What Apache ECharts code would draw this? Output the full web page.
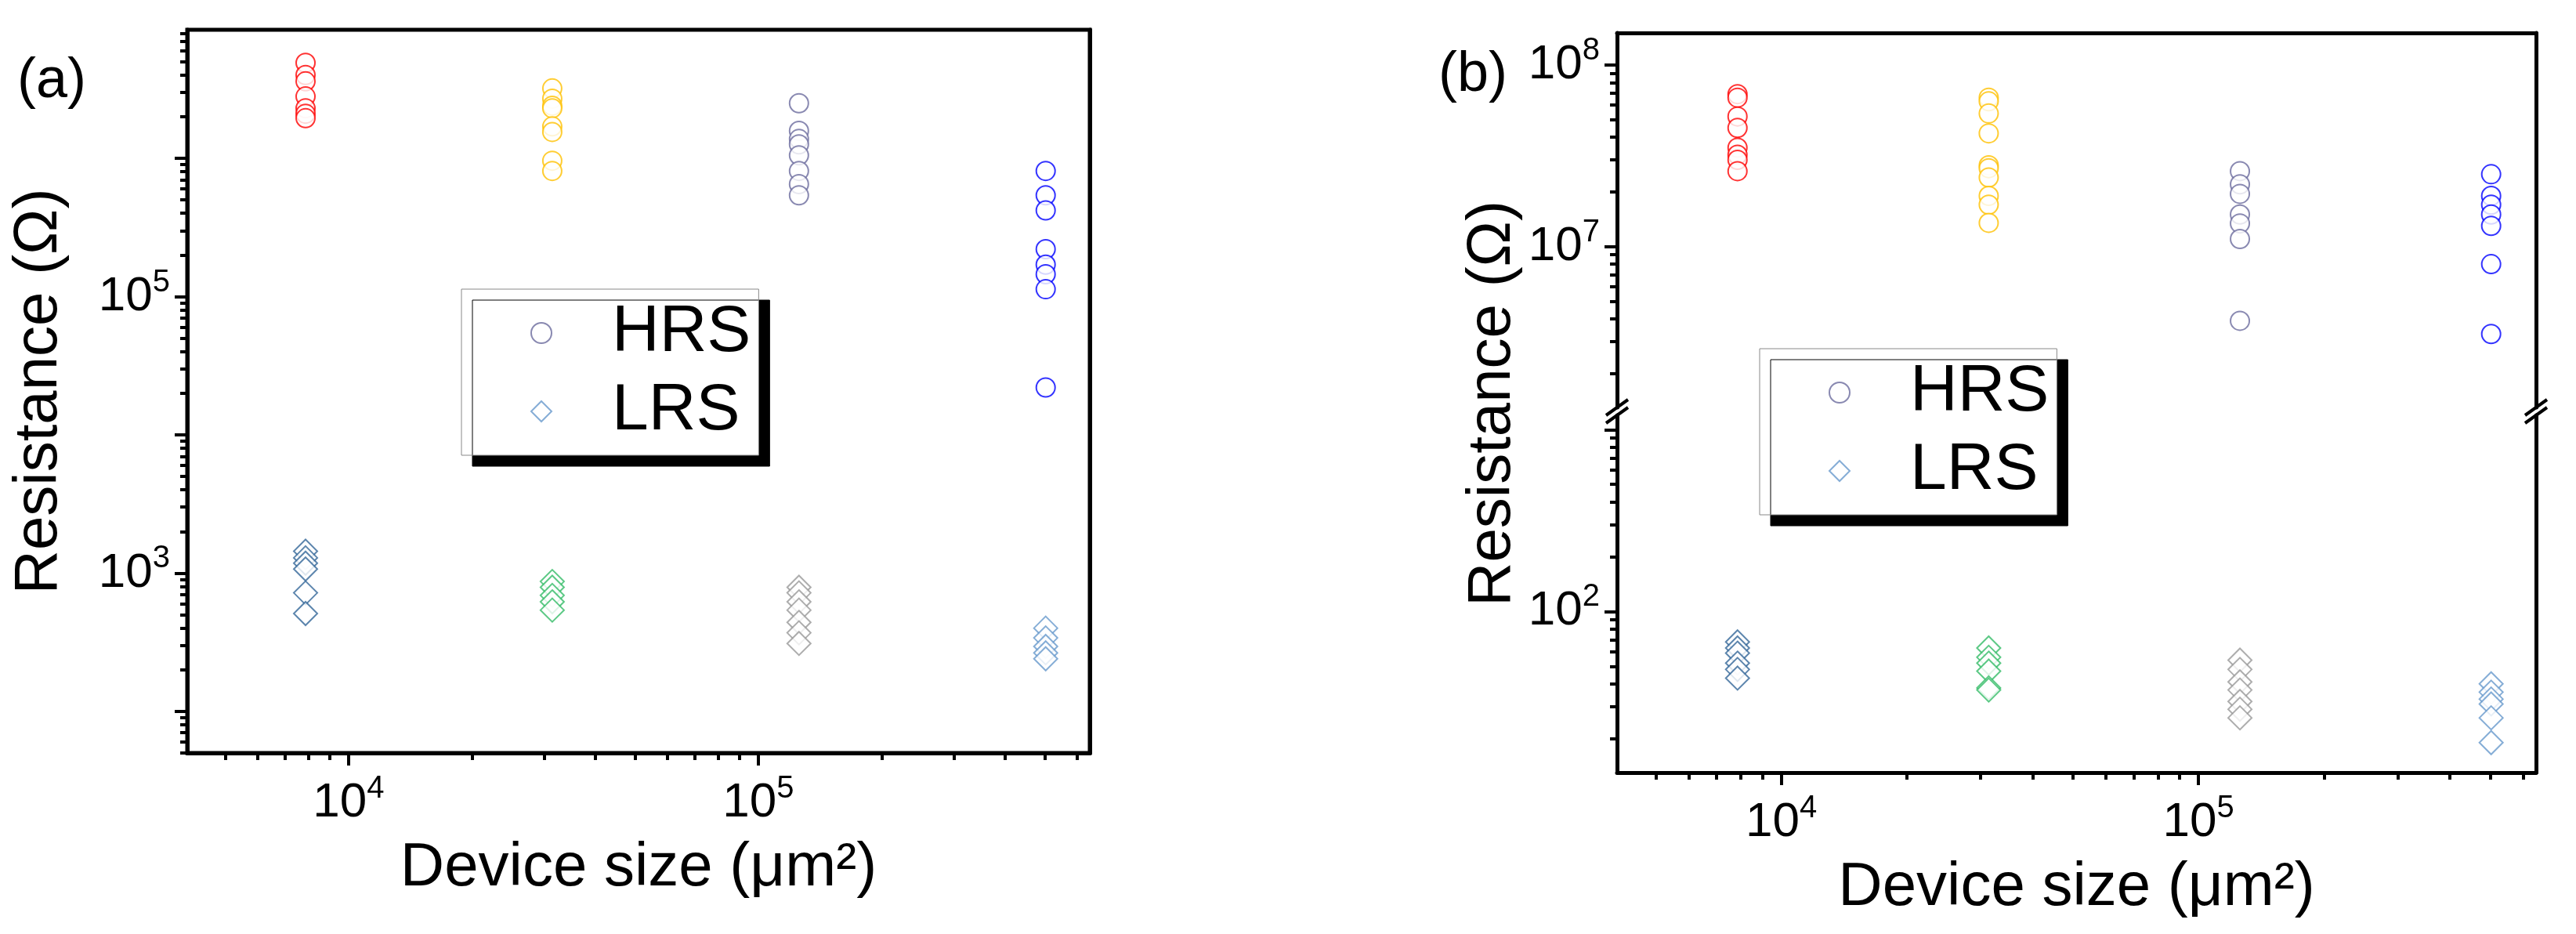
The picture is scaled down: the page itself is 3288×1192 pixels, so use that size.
<!DOCTYPE html>
<html>
<head>
<meta charset="utf-8">
<script src="https://cdn.jsdelivr.net/npm/echarts@6/dist/echarts.min.js"></script>
<style>html,body{margin:0;background:#fff}#c{width:3288px;height:1192px}</style>
</head>
<body>
<div id="c"></div>
<script>
// device areas (um^2): 100, 200, 400, 800 um diameter
var sizes = [7854, 31416, 125664, 502655];
var colorsHRS = ['#ff0000', '#ffc000', '#6b6b9e', '#0000ff'];
var colorsLRS = ['#336699', '#33bb66', '#999999', '#6699cc'];

// panel (a)
var hrsA = [
    [4.9e6, 4.0e6, 3.6e6, 2.8e6, 2.3e6, 2.1e6, 1.95e6],
    [3.2e6, 2.7e6, 2.4e6, 2.3e6, 1.7e6, 1.55e6, 9.6e5, 8.1e5],
    [2.5e6, 1.58e6, 1.38e6, 1.26e6, 1.05e6, 8.1e5, 6.5e5, 5.4e5],
    [8.1e5, 5.4e5, 4.2e5, 2.2e5, 1.7e5, 1.45e5, 1.13e5, 2.2e4]
];
var lrsA = [
    [1440, 1290, 1180, 1070, 720, 510],
    [870, 790, 690, 620, 540],
    [790, 720, 620, 540, 440, 370, 310],
    [400, 340, 295, 265, 240]
];
// panel (b)
var hrsB = [
    [6.9e7, 6.6e7, 5.2e7, 4.5e7, 3.5e7, 3.2e7, 3.0e7, 2.6e7],
    [6.6e7, 6.3e7, 5.4e7, 4.2e7, 2.8e7, 2.7e7, 2.4e7, 1.9e7, 1.7e7, 1.35e7],
    [2.6e7, 2.2e7, 1.95e7, 1.5e7, 1.34e7, 1.1e7, 3.9e6],
    [2.5e7, 1.9e7, 1.7e7, 1.5e7, 1.3e7, 8.0e6, 3.3e6]
];
var lrsB = [
    [68, 63, 59, 52, 48, 43],
    [63, 56, 52, 47, 38, 37],
    [54, 48, 41, 37, 32, 29, 26],
    [40, 36, 33, 31, 26, 19]
];

var xMajor = [1e4, 1e5];
var yMajorA = [1e2, 1e3, 1e4, 1e5, 1e6];
var yLabelA = [1e3, 1e5];
var yMajorBUp = [1e7, 1e8];
var yMajorBLow = [1e2, 1e3];
var yLabelBLow = [1e2];

function minors(lo, hi) {
    var out = [];
    for (var e = -1; e < 10; e++) {
        for (var m = 2; m <= 9; m++) {
            var v = m * Math.pow(10, e);
            if (v >= lo && v <= hi) out.push(v);
        }
    }
    return out;
}

var FONT = 'Liberation Sans';
var rich = {
    b: {fontFamily: FONT, fontSize: 62, color: '#000'},
    s: {fontFamily: FONT, fontSize: 40, color: '#000', padding: [0, 0, 36, 0]}
};
function expLabel(v) {
    return '{b|10}{s|' + Math.round(Math.log10(v)) + '}';
}
var axLine = {show: true, lineStyle: {color: '#000', width: 5}};
var noLine = {show: false};
var tickStyle = {color: '#000', width: 4};

function majorAxis(extra) {
    return Object.assign({
        type: 'log', logBase: 10, splitLine: {show: false}, axisLine: axLine
    }, extra);
}

var X = {min: 4040, max: 6.44e5};
var xName = {name: 'Device size (\u03bcm\u00b2)', nameLocation: 'middle', nameGap: 108,
    nameTextStyle: {fontFamily: FONT, fontSize: 78, color: '#000'}};
var xAxes = [
    majorAxis(Object.assign({gridIndex: 0, position: 'bottom',
        axisTick: {inside: false, length: 16, lineStyle: tickStyle, customValues: xMajor},
        axisLabel: {customValues: xMajor, margin: 26, formatter: expLabel, rich: rich}}, xName, X)),
    majorAxis(Object.assign({gridIndex: 0, position: 'bottom', axisLine: noLine,
        axisTick: {inside: false, length: 9, lineStyle: tickStyle, customValues: minors(X.min, X.max)},
        axisLabel: {show: false}}, X)),
    majorAxis(Object.assign({gridIndex: 1, position: 'top',
        axisTick: {show: false}, axisLabel: {show: false}}, X)),
    majorAxis(Object.assign({gridIndex: 2, position: 'bottom',
        axisTick: {inside: false, length: 16, lineStyle: tickStyle, customValues: xMajor},
        axisLabel: {customValues: xMajor, margin: 26, formatter: expLabel, rich: rich}}, xName, X)),
    majorAxis(Object.assign({gridIndex: 2, position: 'bottom', axisLine: noLine,
        axisTick: {inside: false, length: 9, lineStyle: tickStyle, customValues: minors(X.min, X.max)},
        axisLabel: {show: false}}, X))
];

function yPair(grid, lo, hi, majors, labels, extra) {
    return [
        majorAxis(Object.assign({gridIndex: grid, min: lo, max: hi, position: 'left',
            axisTick: {inside: false, length: 16, lineStyle: tickStyle, customValues: majors},
            axisLabel: {customValues: labels, margin: 22, formatter: expLabel, rich: rich}}, extra || {})),
        majorAxis({gridIndex: grid, min: lo, max: hi, position: 'left', axisLine: noLine,
            axisTick: {inside: false, length: 9, lineStyle: tickStyle, customValues: minors(lo, hi)},
            axisLabel: {show: false}}),
        majorAxis({gridIndex: grid, min: lo, max: hi, position: 'right',
            axisTick: {show: false}, axisLabel: {show: false}})
    ];
}
var yAxes = [].concat(
    yPair(0, 50, 8.5e6, yMajorA, yLabelA, {name: 'Resistance (\u03a9)', nameLocation: 'middle',
        nameGap: 150, nameRotate: 90, nameTextStyle: {fontFamily: FONT, fontSize: 78, color: '#000'}}),
    yPair(1, 1.3e6, 1.5e8, yMajorBUp, yMajorBUp),
    yPair(2, 13, 1200, yMajorBLow, yLabelBLow)
);

var series = [];
function addSeries(name, sym, colors, groups, xi, yi, size) {
    groups.forEach(function(vals, i) {
        series.push({
            name: name, type: 'scatter', symbol: sym, symbolSize: size,
            xAxisIndex: xi, yAxisIndex: yi,
            itemStyle: {color: colors[i], borderWidth: 2.5},
            data: vals.map(function(v) { return [sizes[i], v]; })
        });
    });
}
addSeries('HRS', 'emptyCircle', colorsHRS, hrsA, 0, 0, 24);
addSeries('LRS', 'emptyDiamond', colorsLRS, lrsA, 0, 0, 30);
addSeries('HRS', 'emptyCircle', colorsHRS, hrsB, 2, 3, 24);
addSeries('LRS', 'emptyDiamond', colorsLRS, lrsB, 3, 6, 30);

function legend(left, top) {
    return {
        left: left, top: top, orient: 'vertical',
        backgroundColor: '#fff', borderColor: '#888', borderWidth: 1,
        shadowColor: '#000', shadowBlur: 0, shadowOffsetX: 14, shadowOffsetY: 14,
        padding: [14, 10, 14, 88], itemGap: 16, itemWidth: 26, itemHeight: 26,
        textStyle: {fontFamily: FONT, fontSize: 84, color: '#000', padding: [0, 0, 0, 72]},
        data: [
            {name: 'HRS', icon: 'emptyCircle', itemStyle: {color: '#6b6b9e', borderColor: '#6b6b9e', borderWidth: 2}},
            {name: 'LRS', icon: 'emptyDiamond', itemStyle: {color: '#6699cc', borderColor: '#6699cc', borderWidth: 2}}
        ]
    };
}

function breakMark(x, y) {
    return {type: 'line', shape: {x1: x - 14, y1: y + 10, x2: x + 14, y2: y - 10},
        style: {stroke: '#000', lineWidth: 4}};
}

var chart = echarts.init(document.getElementById('c'));
chart.setOption({
    backgroundColor: '#fff',
    animation: false,
    grid: [
        {left: 239, top: 38, width: 1152, height: 923, show: true, borderColor: '#000', borderWidth: 5},
        {left: 2064, top: 42, width: 1173, height: 478},
        {left: 2064, top: 530, width: 1173, height: 456}
    ],
    xAxis: xAxes,
    yAxis: yAxes,
    legend: [legend(589, 369), legend(2246, 445)],
    series: series,
    graphic: [
        {type: 'text', left: 22, top: 68, style: {text: '(a)', fontFamily: FONT, fontSize: 72, fill: '#000'}},
        {type: 'text', left: 1836, top: 60, style: {text: '(b)', fontFamily: FONT, fontSize: 72, fill: '#000'}},
        {type: 'text', x: 1905, y: 515, rotation: Math.PI / 2,
            style: {text: 'Resistance (\u03a9)', fontFamily: FONT, fontSize: 78, fill: '#000',
                align: 'center', verticalAlign: 'middle'}},
        breakMark(2064, 520), breakMark(2064, 530),
        breakMark(3237, 520), breakMark(3237, 530)
    ]
});
</script>
</body>
</html>
